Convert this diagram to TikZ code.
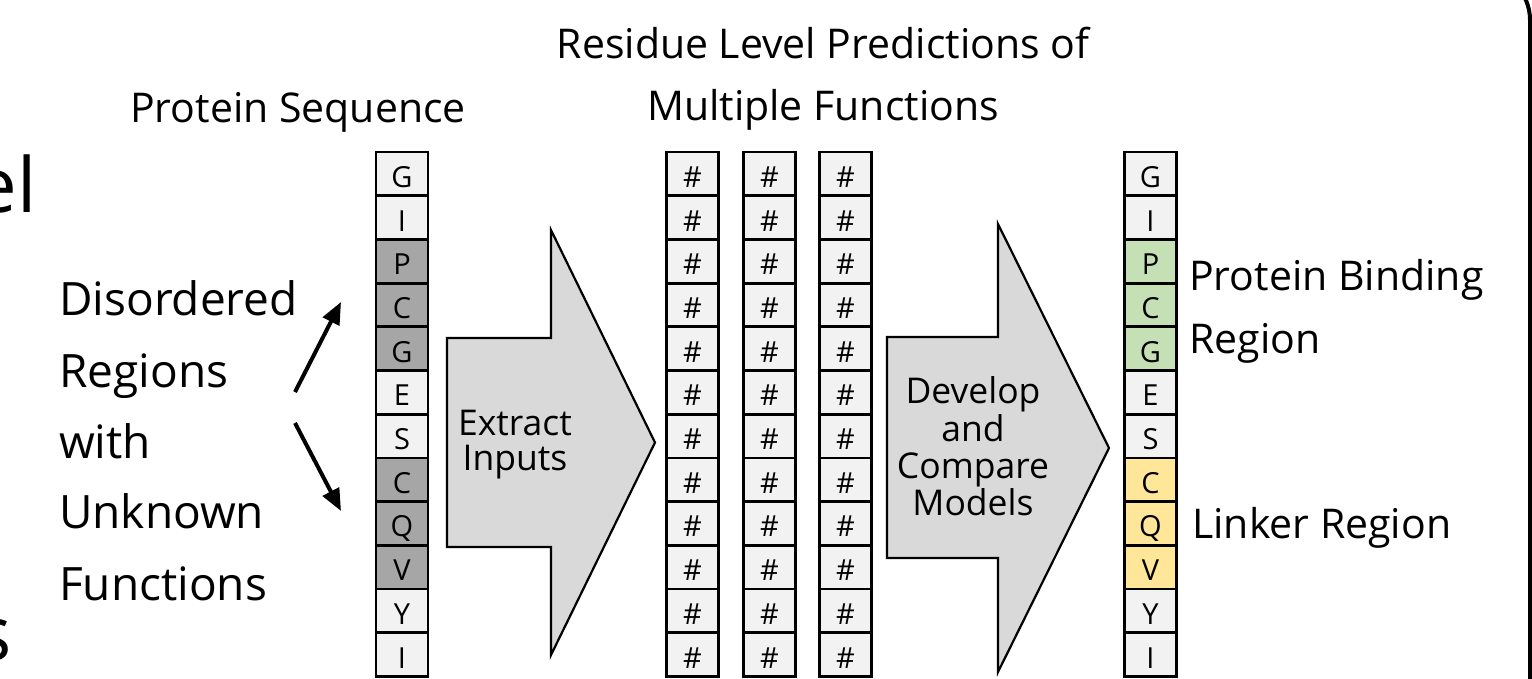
\documentclass[tikz,border=0pt]{standalone}
\usepackage{fontspec}
\setmainfont{Open Sans}
\usetikzlibrary{arrows.meta}
\definecolor{cellgray}{HTML}{F2F2F2}
\definecolor{darkcell}{HTML}{A6A6A6}
\definecolor{bindgreen}{HTML}{C5E0B4}
\definecolor{linkyellow}{HTML}{FFE699}
\definecolor{arrowgray}{HTML}{D9D9D9}
\tikzset{
  cell/.style={draw=black, line width=2.8pt, fill=cellgray, minimum width=52pt,
    minimum height=43.7pt, inner sep=0pt, font=\fontsize{29}{29}\selectfont,
    text height=27pt, text depth=0pt},
  blockarrow/.style={draw=black, line width=2.2pt, fill=arrowgray, line join=miter},
  conn/.style={line width=4pt, -{Triangle[length=22pt,width=18pt]}},
  title/.style={font=\fontsize{41}{41}\selectfont, inner sep=0pt, anchor=base},
  side/.style={font=\fontsize{46}{46}\selectfont, inner sep=0pt, anchor=base west},
  rside/.style={font=\fontsize{41}{41}\selectfont, inner sep=0pt, anchor=base west},
  inarrow/.style={font=\fontsize{35.5}{35.5}\selectfont, inner sep=0pt, anchor=base},
  big/.style={font=\fontsize{76}{76}\selectfont, inner sep=0pt, anchor=base east},
  frame/.style={draw=black, line width=4pt}
}
\begin{document}
\begin{tikzpicture}[x=1pt,y=-1pt]
\useasboundingbox (0,0) rectangle (1532,678);
\clip (0,0) rectangle (1532,678);
\fill[white] (0,0) rectangle (1532,678);
% frame fragment (only its right side and top-right corner show)
\draw[frame] (1530,720) -- (1530,20) arc[start angle=0, end angle=-90, radius=50];
% cut-off big text fragments
\node[big] (frag1) at (37,212) {el};
\node[big] (frag2) at (12,660) {s};
% titles
\node[title] (ptitle) at (298,122) {Protein Sequence};
\node[title] (rtitle1) at (823,58) {Residue Level Predictions of};
\node[title] (rtitle2) at (823,120) {Multiple Functions};
% left labels
\node[side] (l1) at (59,315) {Disordered};
\node[side] (l2) at (59,387) {Regions};
\node[side] (l3) at (59,458) {with};
\node[side] (l4) at (59,528) {Unknown};
\node[side] (l5) at (59,600) {Functions};
% input sequence
\foreach \l/\c [count=\i] in {G/cellgray,I/cellgray,P/darkcell,C/darkcell,G/darkcell,E/cellgray,S/cellgray,C/darkcell,Q/darkcell,V/darkcell,Y/cellgray,I/cellgray}
  \node[cell, fill=\c] (s\i) at (402,{152+(\i-0.5)*43.7}) {\l};
% prediction columns
\foreach \col/\x in {a/692.5,b/769.5,c/845.5}
  \foreach \i in {1,...,12}
    \node[cell] (\col\i) at (\x,{152+(\i-0.5)*43.7}) {\#};
% output sequence
\foreach \l/\c [count=\i] in {G/cellgray,I/cellgray,P/bindgreen,C/bindgreen,G/bindgreen,E/cellgray,S/cellgray,C/linkyellow,Q/linkyellow,V/linkyellow,Y/cellgray,I/cellgray}
  \node[cell, fill=\c] (o\i) at (1150.5,{152+(\i-0.5)*43.7}) {\l};
% connectors from label to sequence
\coordinate (upstart) at (295,392);
\coordinate (upend) at (341,302);
\coordinate (downstart) at (295,423);
\coordinate (downend) at (341,511);
\draw[conn] (upstart) -- (upend);
\draw[conn] (downstart) -- (downend);
% block arrows
\draw[blockarrow] (447,338) -- (551,338) -- (551,230) -- (655,442.5) -- (551,655) -- (551,547) -- (447,547) -- cycle;
\node[inarrow] (ex1) at (515,435) {Extract};
\node[inarrow] (ex2) at (515,470) {Inputs};
\draw[blockarrow] (887,337) -- (998,337) -- (998,224) -- (1109,448) -- (998,672) -- (998,558) -- (887,558) -- cycle;
\node[inarrow] (dv1) at (973,403) {Develop};
\node[inarrow] (dv2) at (973,441) {and};
\node[inarrow] (dv3) at (973,478) {Compare};
\node[inarrow] (dv4) at (973,515) {Models};
% right labels
\node[rside] (pb1) at (1189,290) {Protein Binding};
\node[rside] (pb2) at (1189,353) {Region};
\node[rside] (lk) at (1192,538) {Linker Region};
\end{tikzpicture}
\end{document}
